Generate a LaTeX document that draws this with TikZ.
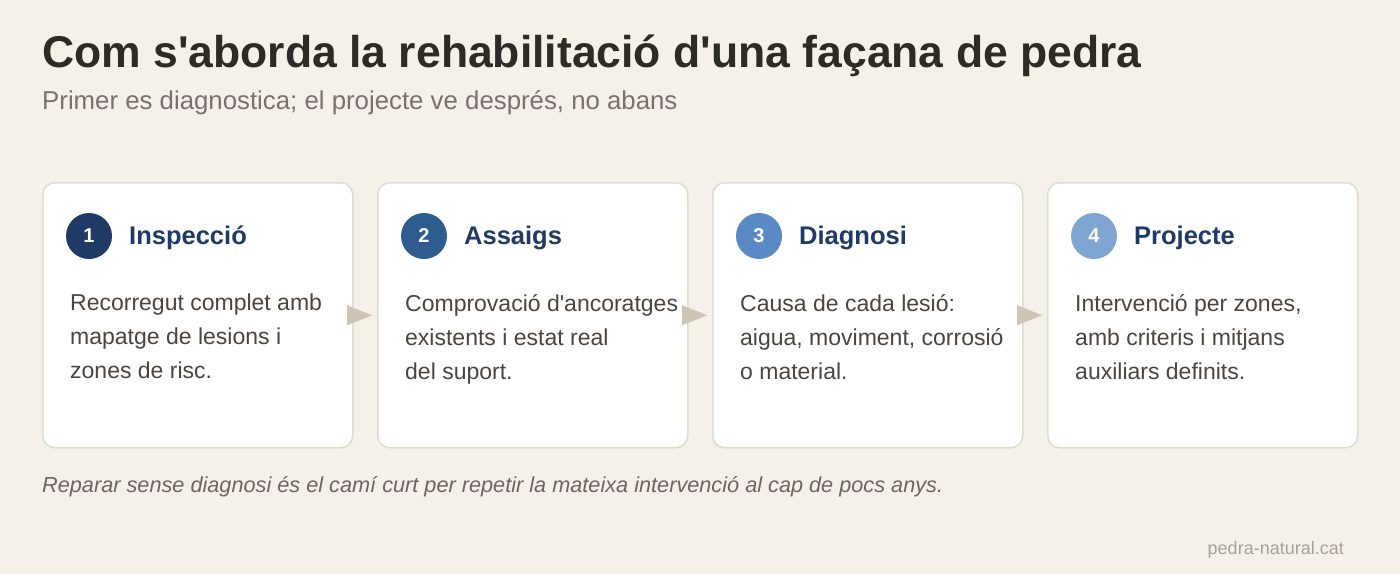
\documentclass[tikz,border=0pt]{standalone}
\usepackage{fontspec}
\setmainfont{Liberation Sans}[Ligatures=TeXOff]
\usetikzlibrary{arrows.meta,positioning}
\definecolor{bg}{HTML}{F5F0E8}
\definecolor{cardborder}{HTML}{E2DBCF}
\definecolor{titlec}{HTML}{2E2A26}
\definecolor{subc}{HTML}{7A7268}
\definecolor{bodyc}{HTML}{4A4540}
\definecolor{headc}{HTML}{1F3A64}
\definecolor{footc}{HTML}{6E665D}
\definecolor{markc}{HTML}{A8A198}
\definecolor{arrowc}{HTML}{CFC5B5}
\definecolor{cA}{HTML}{1F3A64}
\definecolor{cB}{HTML}{2F5C8F}
\definecolor{cC}{HTML}{5A8AC6}
\definecolor{cD}{HTML}{7FA6D0}
\tikzset{
  x=1pt,y=1pt,
  card/.style={draw=cardborder,line width=1.5pt,fill=white,rounded corners=12pt,minimum width=310pt,minimum height=265pt,inner sep=0pt,anchor=north west},
  numdot/.style={circle,minimum size=46pt,inner sep=0pt,text=white,font=\fontsize{20}{24}\selectfont\bfseries},
  head/.style={anchor=base west,text=headc,font=\fontsize{25.5}{30}\selectfont\bfseries,inner sep=0pt},
  body/.style={anchor=north west,text=bodyc,font=\fontsize{23}{34}\selectfont,align=left,inner sep=0pt,text depth=0pt},
  flow/.style={draw=arrowc,line width=0.1pt,-{Triangle[length=25pt,width=20pt,fill=arrowc]}},
}
\begin{document}
\begin{tikzpicture}
\useasboundingbox[fill=bg] (0,0) rectangle (1400,-574);
\node[anchor=base west,inner sep=0pt,text=titlec,font=\fontsize{44.5}{52}\selectfont\bfseries] (title) at (42,-67) {Com s'aborda la rehabilitació d'una façana de pedra};
\node[anchor=base west,inner sep=0pt,text=subc,font=\fontsize{25.8}{30}\selectfont] (sub) at (42,-109) {Primer es diagnostica; el projecte ve després, no abans};
\foreach \i/\x/\c/\t/\b in {1/42/cA/Inspecció/{Recorregut complet amb\\mapatge de lesions i\\zones de risc.},
  2/377/cB/Assaigs/{Comprovació d'ancoratges\\existents i estat real\\del suport.},
  3/712/cC/Diagnosi/{Causa de cada lesió:\\aigua, moviment, corrosió\\o material.},
  4/1047/cD/Projecte/{Intervenció per zones,\\amb criteris i mitjans\\auxiliars definits.}}{
  \node[card] (card\i) at (\x,-182) {};
  \node[numdot,fill=\c] (num\i) at (\x+47,-236) {\i};
  \node[head] (head\i) at (\x+87,-244) {\t};
  \node[body] (body\i) at (\x+28,-294) {\b};
}
\foreach \a/\b in {1/2,2/3,3/4}{
  \draw[flow] ([xshift=-5pt]card\a.east) -- ([xshift=-5pt]card\b.west);
}
\node[anchor=base west,inner sep=0pt,text=footc,font=\fontsize{21.7}{26}\selectfont\itshape] (foot) at (42,-492) {Reparar sense diagnosi és el camí curt per repetir la mateixa intervenció al cap de pocs anys.};
\node[anchor=base east,inner sep=0pt,text=markc,font=\fontsize{18}{22}\selectfont] (mark) at (1344,-554) {pedra-natural.cat};
\end{tikzpicture}
\end{document}
